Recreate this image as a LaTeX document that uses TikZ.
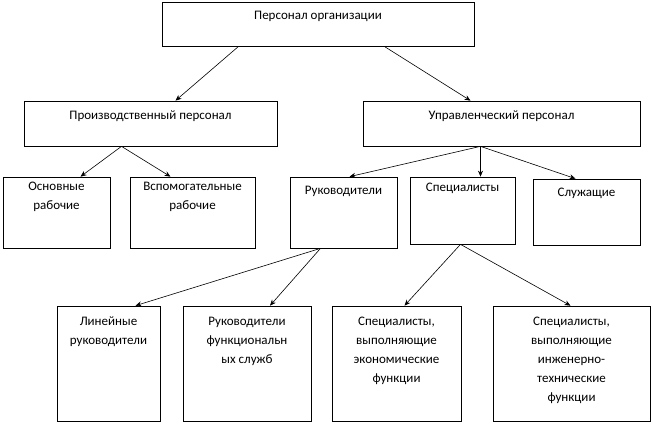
\documentclass[tikz,border=0pt]{standalone}
\usepackage{fontspec}
\setmainfont{Carlito}
\usetikzlibrary{arrows.meta}
\begin{document}
\begin{tikzpicture}[x=1pt,y=-1pt,
  box/.style={draw,line width=0.7pt,inner sep=0pt},
  txt/.style={anchor=north,align=center,font=\fontsize{13}{19}\selectfont,inner sep=0pt},
  arr/.style={-{Stealth[length=6pt,width=5pt]},line width=0.6pt}]
\useasboundingbox (0,0) rectangle (653,426);
\node[box,minimum width=312,minimum height=44] (top) at (318,24.5) {};
\node[txt] (topt) at (318,11) {Персонал организации};
\node[box,minimum width=253,minimum height=45] (pr) at (150.5,123.5) {};
\node[txt] (prt) at (150.5,111) {Производственный персонал};
\node[box,minimum width=277,minimum height=45] (up) at (501.5,123.5) {};
\node[txt] (upt) at (501.5,111) {Управленческий персонал};
\node[box,minimum width=107,minimum height=71] (os) at (56.5,212.5) {};
\node[txt] (ost) at (56.5,182) {Основные\\рабочие};
\node[box,minimum width=125,minimum height=71] (vs) at (192.5,212.5) {};
\node[txt] (vst) at (192.5,182) {Вспомогательные\\рабочие};
\node[box,minimum width=107,minimum height=71] (ru) at (343.5,212.5) {};
\node[txt] (rut) at (343.5,186) {Руководители};
\node[box,minimum width=105,minimum height=67] (sp) at (462.5,210.5) {};
\node[txt] (spt) at (462.5,183) {Специалисты};
\node[box,minimum width=107,minimum height=66] (sl) at (586.5,212) {};
\node[txt] (slt) at (586.5,188) {Служащие};
\node[box,minimum width=103,minimum height=115] (li) at (108.5,363.5) {};
\node[txt] (lit) at (108.5,317) {Линейные\\руководители};
\node[box,minimum width=128,minimum height=115] (fu) at (247,363.5) {};
\node[txt] (fut) at (247,317) {Руководители\\функциональн\\ых служб};
\node[box,minimum width=129,minimum height=115] (ek) at (396.5,363.5) {};
\node[txt] (ekt) at (396.5,317) {Специалисты,\\выполняющие\\экономические\\функции};
\node[box,minimum width=157,minimum height=115] (in) at (571.5,363.5) {};
\node[txt] (int) at (571.5,317) {Специалисты,\\выполняющие\\инженерно-\\технические\\функции};
\draw[arr] ([xshift=-80]top.south) -- ([xshift=25]pr.north);
\draw[arr] ([xshift=67]top.south) -- ([xshift=-31]up.north);
\draw[arr] ([xshift=-29]pr.south) -- ([xshift=24]os.north);
\draw[arr] ([xshift=-29]pr.south) -- ([xshift=-22]vs.north);
\draw[arr] ([xshift=-21]up.south) -- ([xshift=6]ru.north);
\draw[arr] ([xshift=-21]up.south) -- ([xshift=18]sp.north);
\draw[arr] ([xshift=-21]up.south) -- ([xshift=-11]sl.north);
\draw[arr] ([xshift=-23]ru.south) -- ([xshift=27]li.north);
\draw[arr] ([xshift=-23]ru.south) -- ([xshift=23]fu.north);
\draw[arr] ([xshift=-2]sp.south) -- ([xshift=8]ek.north);
\draw[arr] ([xshift=-2]sp.south) -- ([xshift=-1]in.north);
\end{tikzpicture}
\end{document}
